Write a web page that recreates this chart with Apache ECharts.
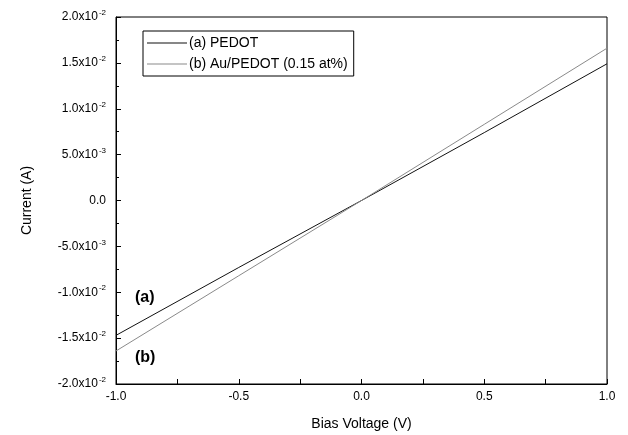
<!DOCTYPE html>
<html>
<head>
<meta charset="utf-8">
<script src="https://cdn.jsdelivr.net/npm/echarts@6/dist/echarts.min.js"></script>
<style>
html, body { margin: 0; padding: 0; background: #fff; }
#chart_iv { width: 628px; height: 435px; }
</style>
</head>
<body>
<div id="chart_iv"></div>
<script>
// bias voltage (V) -> current (A)
const voltage = [-1.0, -0.5, 0.0, 0.5, 1.0]
const pedot = [-0.0147, -0.0073, 0.0, 0.0074, 0.0149]
const auPedot = [-0.0164, -0.0082, 0.0, 0.0083, 0.0166]
const seriesNames = ['(a) PEDOT', '(b) Au/PEDOT (0.15 at%)']

const font = 'Liberation Sans, Arial, sans-serif'

function pairs(xs, ys) {
  return xs.map((x, i) => [x, ys[i]])
}

function sciLabel(v) {
  if (Math.abs(v) < 1e-12) return '0.0'
  let exp = Math.floor(Math.log10(Math.abs(v)))
  let mant = v / Math.pow(10, exp)
  return mant.toFixed(1) + 'x10{sup|' + exp + '}'
}

const chart = echarts.init(document.getElementById('chart_iv'))
chart.setOption({
  animation: false,
  backgroundColor: '#fff',
  grid: {
    left: 116,
    right: 21,
    top: 17,
    bottom: 51,
    outerBoundsMode: 'none',
    containLabel: false,
    show: true,
    borderColor: '#000',
    borderWidth: 1
  },
  legend: {
    left: 143,
    top: 31,
    orient: 'vertical',
    itemWidth: 40,
    itemHeight: 12,
    itemGap: 7,
    padding: [5, 6, 5, 4],
    borderColor: '#000',
    borderWidth: 1,
    icon: 'path://M0,5 L40,5 L40,6 L0,6 Z',
    textStyle: { fontFamily: font, fontSize: 14, color: '#000', padding: [0, 0, 0, -3] },
    data: seriesNames
  },
  xAxis: {
    type: 'value',
    min: -1,
    max: 1,
    interval: 0.5,
    name: 'Bias Voltage (V)',
    nameLocation: 'middle',
    nameGap: 33,
    nameTextStyle: { fontFamily: font, fontSize: 14, color: '#000' },
    axisLine: { onZero: false, lineStyle: { color: '#000' } },
    axisTick: { inside: true, length: 5, lineStyle: { color: '#000' } },
    minorTick: { show: true, splitNumber: 2, length: 5, lineStyle: { color: '#000' } },
    splitLine: { show: false },
    axisLabel: {
      fontFamily: font,
      fontSize: 12,
      color: '#000',
      margin: 7,
      formatter: v => v.toFixed(1)
    }
  },
  yAxis: {
    type: 'value',
    min: -0.02,
    max: 0.02,
    interval: 0.005,
    name: 'Current (A)',
    nameLocation: 'middle',
    nameGap: 82,
    nameTextStyle: { fontFamily: font, fontSize: 14, color: '#000' },
    axisLine: { show: true, onZero: false, lineStyle: { color: '#000' } },
    axisTick: { inside: true, length: 5, lineStyle: { color: '#000' } },
    minorTick: { show: true, splitNumber: 2, length: 3, lineStyle: { color: '#000' } },
    splitLine: { show: false },
    axisLabel: {
      fontFamily: font,
      fontSize: 12,
      color: '#000',
      margin: 10,
      formatter: sciLabel,
      rich: {
        sup: { fontFamily: font, fontSize: 8, color: '#000', verticalAlign: 'top', padding: [0, 0, 8, 1] }
      }
    }
  },
  series: [
    {
      name: seriesNames[0],
      type: 'line',
      data: pairs(voltage, pedot),
      showSymbol: false,
      lineStyle: { color: '#111', width: 1 },
      itemStyle: { color: '#111' }
    },
    {
      name: seriesNames[1],
      type: 'line',
      data: pairs(voltage, auPedot),
      showSymbol: false,
      lineStyle: { color: '#8a8a8a', width: 1 },
      itemStyle: { color: '#8a8a8a' }
    }
  ],
  graphic: [
    {
      type: 'text',
      left: 135,
      top: 290,
      style: { text: '(a)', font: 'bold 16px ' + font, fill: '#000' }
    },
    {
      type: 'text',
      left: 135,
      top: 350,
      style: { text: '(b)', font: 'bold 16px ' + font, fill: '#000' }
    }
  ]
})
</script>
</body>
</html>
